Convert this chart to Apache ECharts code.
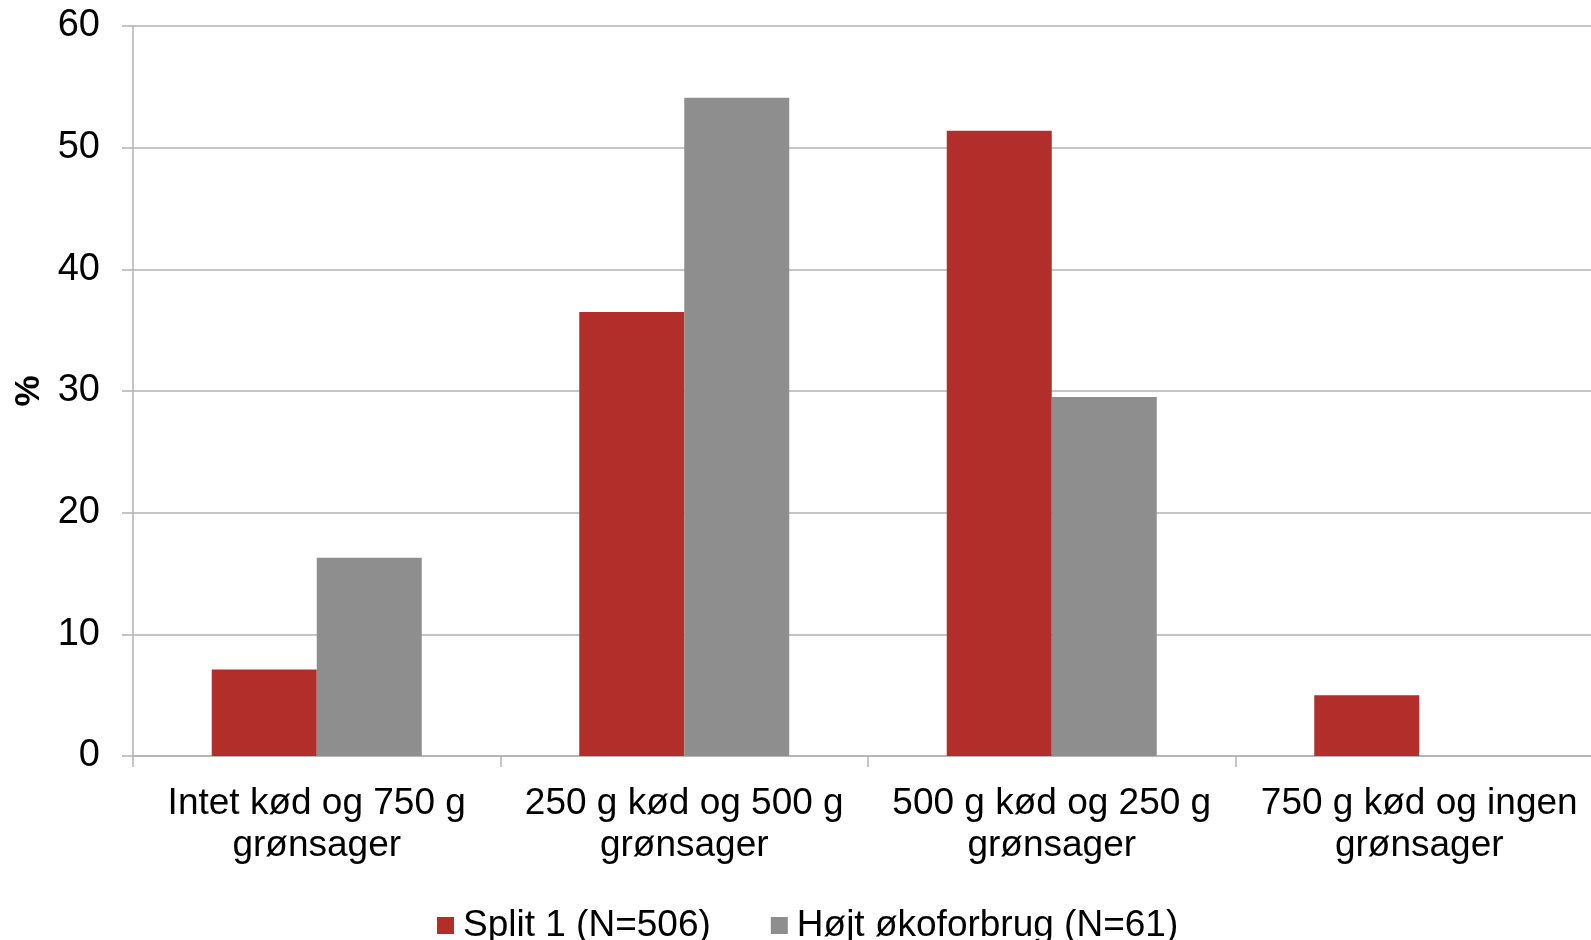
<!DOCTYPE html>
<html>
<head>
<meta charset="utf-8">
<script src="https://cdn.jsdelivr.net/npm/echarts@6/dist/echarts.min.js"></script>
<style>
  html, body { margin: 0; padding: 0; background: #ffffff; overflow: hidden; }
  #chart { width: 1591px; height: 940px; }
</style>
</head>
<body>
<div id="chart"></div>
<script>
// Meal choice categories (meat vs. vegetables)
const categories = [
  'Intet kød og 750 g\ngrønsager',
  '250 g kød og 500 g\ngrønsager',
  '500 g kød og 250 g\ngrønsager',
  '750 g kød og ingen\ngrønsager'
];

// Share of respondents (%)
const split1Name = 'Split 1 (N=506)';
const split1Values = [7.1, 36.5, 51.4, 5.0];

const okoName = 'Højt økoforbrug (N=61)';
const okoValues = [16.3, 54.1, 29.5, 0];

// Value axis ticks
const yMin = 0;
const yMax = 60;
const yStep = 10;

const FONT = '"Liberation Sans", Arial, Helvetica, sans-serif';
const RED = '#b22e2b';
const GREY = '#8e8e8e';
const AXIS = '#b3b3b3';

const chart = echarts.init(document.getElementById('chart'), null, { renderer: 'canvas' });

chart.setOption({
  animation: false,
  backgroundColor: '#ffffff',
  textStyle: { fontFamily: FONT },
  // plot area runs slightly past the right edge of the canvas
  grid: {
    left: 133, width: 1470, top: 26, bottom: 184,
    containLabel: false,
    outerBoundsMode: 'none'
  },
  legend: {
    data: [split1Name, okoName],
    left: 432,
    top: 902,
    itemWidth: 17,
    itemHeight: 17,
    itemGap: 60,
    icon: 'rect',
    textStyle: { fontFamily: FONT, fontSize: 37, color: '#000000', padding: [0, 0, 0, 4] }
  },
  xAxis: {
    type: 'category',
    data: categories,
    axisLine: { show: true, lineStyle: { color: AXIS, width: 1.5 } },
    axisTick: { show: true, alignWithLabel: false, length: 11, lineStyle: { color: AXIS, width: 1.5 } },
    axisLabel: {
      interval: 0,
      margin: 27,
      fontFamily: FONT,
      fontSize: 37,
      lineHeight: 42,
      color: '#000000'
    },
    splitLine: { show: false }
  },
  yAxis: {
    type: 'value',
    min: yMin,
    max: yMax,
    interval: yStep,
    name: '%',
    nameLocation: 'middle',
    nameRotate: 90,
    nameGap: 79,
    nameTextStyle: { fontFamily: FONT, fontSize: 35, fontWeight: 'bold', color: '#000000' },
    axisLine: { show: true, lineStyle: { color: AXIS, width: 1.5 } },
    axisTick: { show: true, inside: false, length: 11, lineStyle: { color: AXIS, width: 1.5 } },
    axisLabel: { margin: 33, fontFamily: FONT, fontSize: 38, color: '#000000' },
    splitLine: { show: true, lineStyle: { color: AXIS, width: 1.5 } }
  },
  series: [
    {
      name: split1Name,
      type: 'bar',
      data: split1Values,
      barWidth: 105,
      barGap: '0%',
      itemStyle: { color: RED }
    },
    {
      name: okoName,
      type: 'bar',
      data: okoValues,
      barWidth: 105,
      barGap: '0%',
      itemStyle: { color: GREY }
    }
  ]
});
</script>
</body>
</html>
